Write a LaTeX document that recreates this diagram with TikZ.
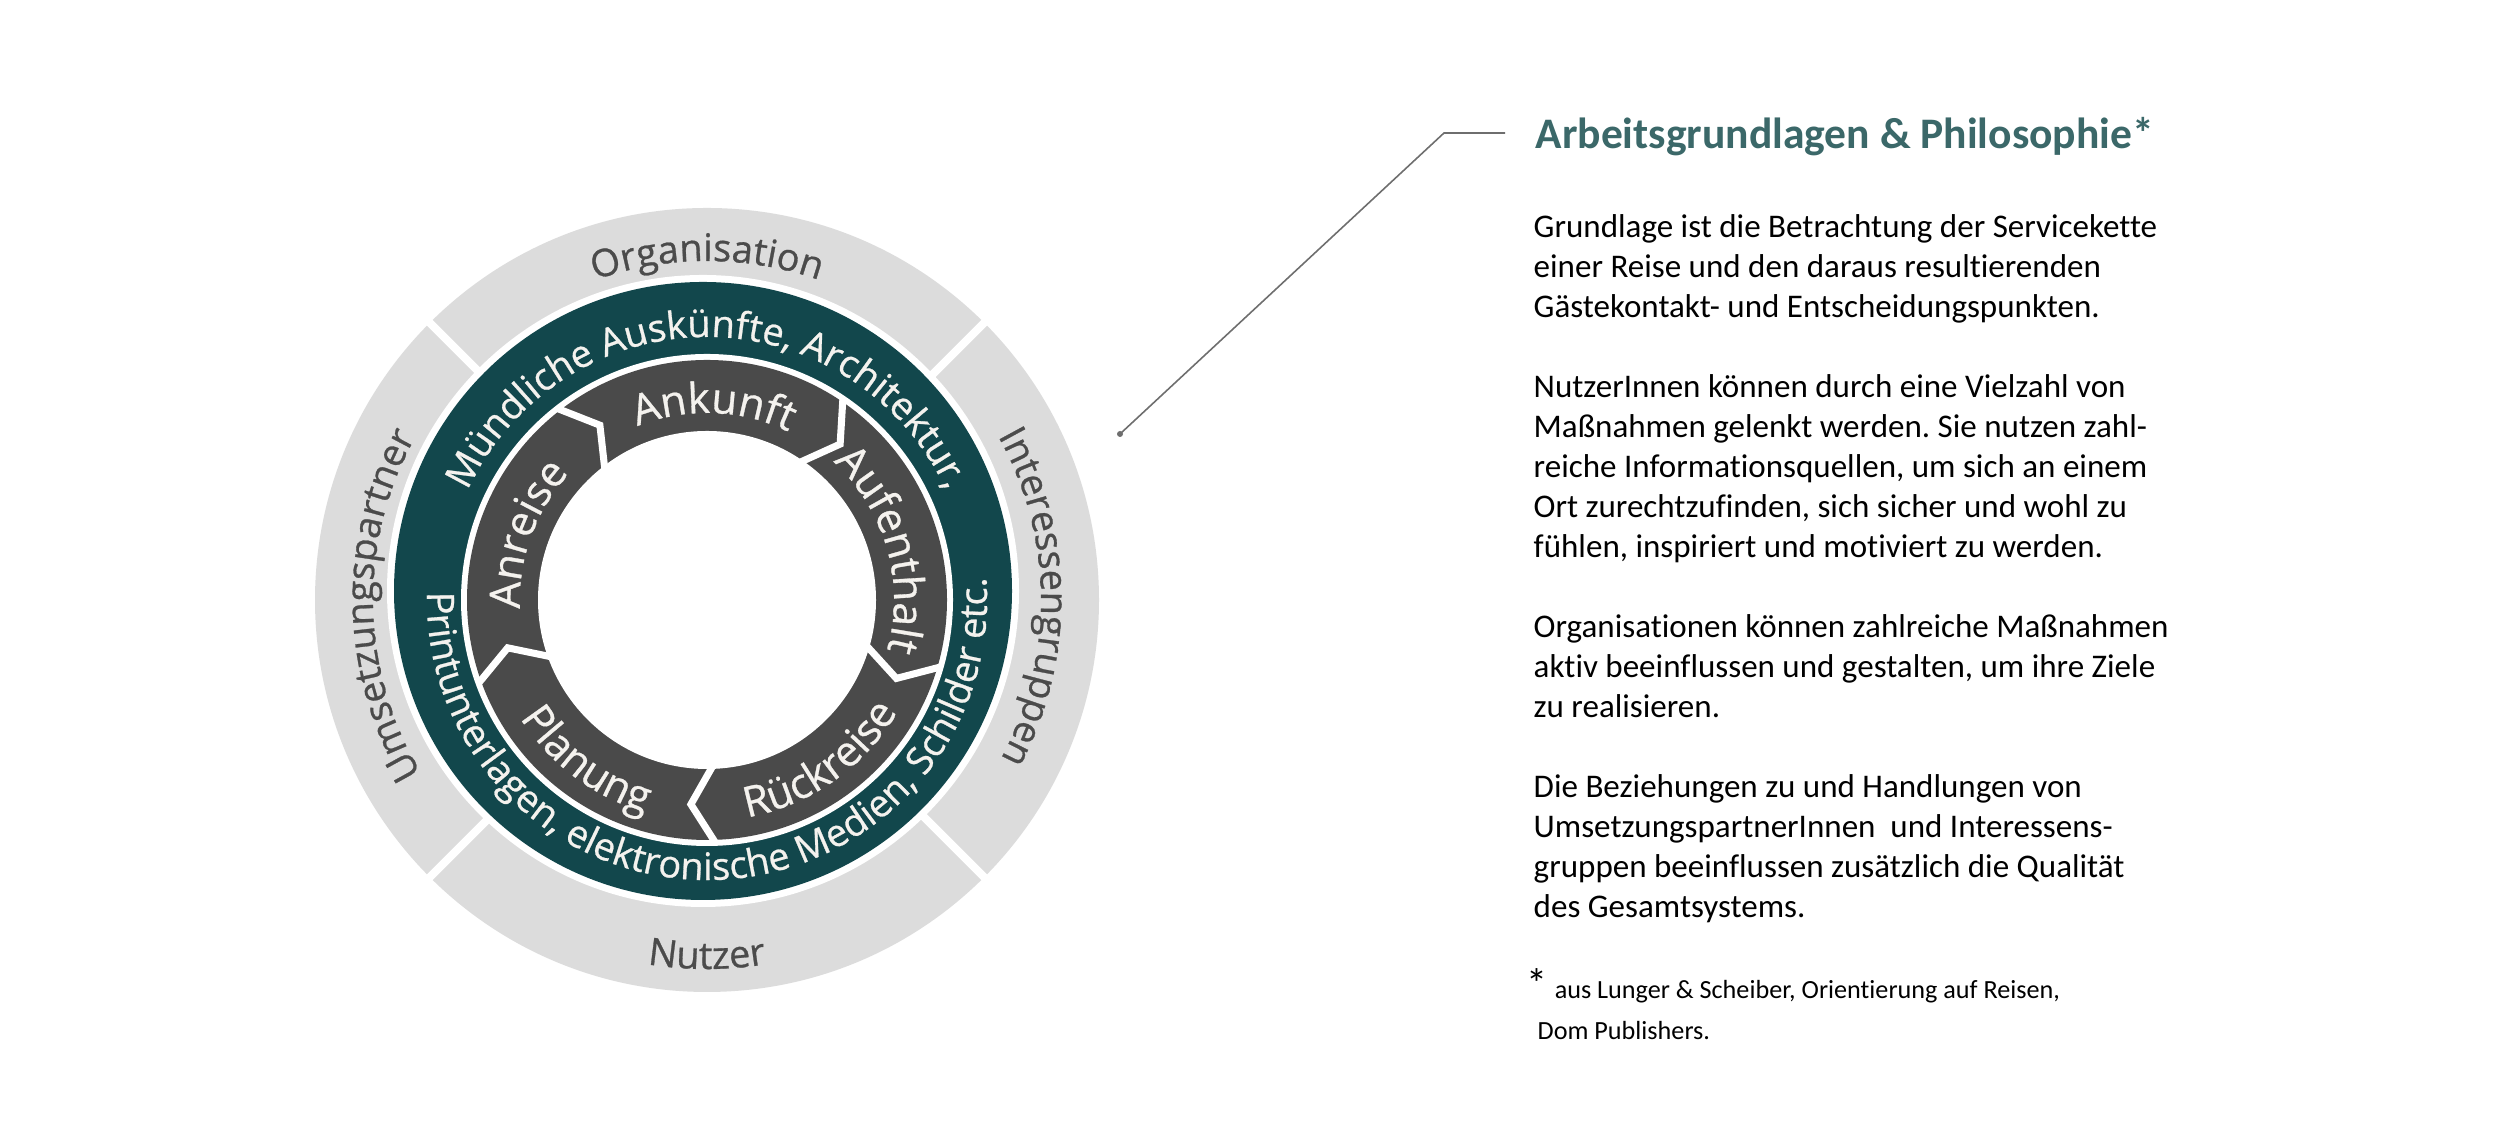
\documentclass[tikz,border=0pt]{standalone}
\usepackage{fontspec}
\setmainfont{Carlito}[Ligatures=NoCommon]
\newfontfamily\ringfont{Open Sans}[FakeBold=0.7]
\usetikzlibrary{decorations.text}
\definecolor{ringgray}{HTML}{DCDCDC}
\definecolor{tealring}{HTML}{12474C}
\definecolor{darkring}{HTML}{4A4A4A}
\definecolor{labgray}{HTML}{4B4B4B}
\definecolor{titleteal}{HTML}{3B6869}
\definecolor{offwhite}{HTML}{F4F2EE}
\definecolor{leadgray}{HTML}{6E6E6E}
\newcommand\outerfmt{\ringfont\fontsize{10.8}{12}\selectfont\color{labgray}}
\newcommand\tealfmt{\ringfont\fontsize{10.8}{12}\selectfont\color{offwhite}}
\newcommand\darkfmt{\ringfont\fontsize{12}{14}\selectfont\color{offwhite}}
\newcommand\arclabel[5]{%
  \path[decorate,decoration={text along path,text align=center,text={|#4|#5}}]
    (#2:#1) arc[start angle=#2,end angle=#3,radius=#1];}
\tikzset{
  sepline/.style={white,line width=2.3pt},
  chevline/.style={white,line width=2pt,line join=miter},
  leader/.style={leadgray,line width=0.45pt},
}
\frenchspacing
\begin{document}
\begin{tikzpicture}[x=0.1mm,y=0.1mm]
\fill[white] (0,0) rectangle (2500,1143);
\useasboundingbox (0,0) rectangle (2500,1143);
\begin{scope}[shift={(707,543)}]
  \fill[ringgray] (0,0) circle[radius=392];
  \foreach \a in {45,135,225,315}
    \draw[sepline] (\a:250) -- (\a:400);
  \fill[white] (-4,9) circle[radius=316];
  \fill[tealring] (-4,9) circle[radius=309];
  \fill[white] (0,0) circle[radius=246];
  \fill[darkring] (0,0) circle[radius=240];
  \fill[white] (0,0) circle[radius=169];
  \foreach \t in {128,56,-16,-88,-160}
    \draw[chevline] (\t:243) -- (\t-6.5:205) -- (\t:166);
  % outer labels
  \arclabel{339}{130}{50}{\outerfmt}{Organisation}
  \arclabel{334}{50.5}{-49.5}{\outerfmt}{Interessengruppen}
  \arclabel{369}{-120}{-60}{\outerfmt}{Nutzer}
  \arclabel{334}{231}{131}{\outerfmt}{Umsetzungspartner}
  % teal labels
  \arclabel{263}{175}{5}{\tealfmt}{Mündliche Auskünfte, Architektur,}
  \arclabel{280}{166.5}{376.5}{\tealfmt}{Printunterlagen, elektronische Medien, Schilder etc.}
  % dark labels
  \arclabel{187}{185}{135}{\darkfmt}{Anreise}
  \arclabel{187}{113}{63}{\darkfmt}{Ankunft}
  \arclabel{187}{46}{-14}{\darkfmt}{Aufenthalt}
  \arclabel{221}{-85}{-25}{\darkfmt}{Rückreise}
  \arclabel{221}{203}{263}{\darkfmt}{Planung}
\end{scope}
% leader line
\coordinate (lead0) at (1120,709);
\coordinate (lead1) at (1444,1010);
\coordinate (lead2) at (1505,1010);
\draw[leader] (lead0) -- (lead1) -- (lead2);
\fill[leadgray] (lead0) circle[radius=3];
% text block
\node[anchor=base west,inner sep=0,text=titleteal,font=\bfseries\fontsize{12.4}{15}\selectfont] (title) at (1535,994) {Arbeitsgrundlagen \& Philosophie*};
\node[anchor=north west,inner sep=0,align=left,font=\fontsize{9.4}{11.38}\selectfont] (body) at (1533,934) {\strut Grundlage ist die Betrachtung der Servicekette\\
einer Reise und den daraus resultierenden\\
Gästekontakt- und Entscheidungspunkten.\\[11.38pt]
NutzerInnen können durch eine Vielzahl von\\
Maßnahmen gelenkt werden. Sie nutzen zahl-\\
reiche Informationsquellen, um sich an einem\\
Ort zurechtzufinden, sich sicher und wohl zu\\
fühlen, inspiriert und motiviert zu werden.\\[11.38pt]
Organisationen können zahlreiche Maßnahmen\\
aktiv beeinflussen und gestalten, um ihre Ziele\\
zu realisieren.\\[11.38pt]
Die Beziehungen zu und Handlungen von\\
UmsetzungspartnerInnen~ und Interessens-\\
gruppen beeinflussen zusätzlich die Qualität\\
des Gesamtsystems.};
\node[anchor=base west,inner sep=0,font=\fontsize{7.45}{11.6}\selectfont] (foot1) at (1526,144) {{\fontsize{12}{12}\selectfont *}\hspace{2pt}aus Lunger \& Scheiber, Orientierung auf Reisen,};
\node[anchor=base west,inner sep=0,font=\fontsize{7.45}{11.6}\selectfont] (foot2) at (1537,103) {Dom Publishers.};
\end{tikzpicture}
\end{document}
